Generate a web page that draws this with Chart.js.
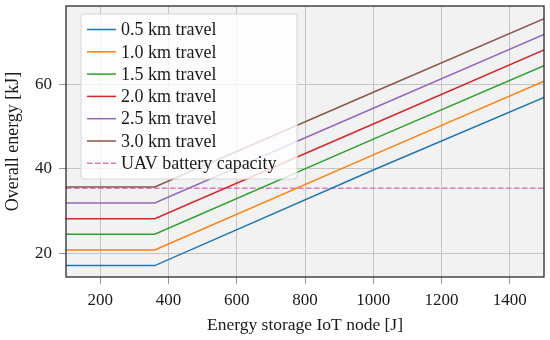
<!DOCTYPE html>
<html>
<head>
<meta charset="utf-8">
<script src="https://cdn.jsdelivr.net/npm/chart.js@4/dist/chart.umd.min.js"></script>
<style>
  html, body { margin: 0; padding: 0; background: #fff; }
  #wrap { width: 550px; height: 340px; }
</style>
</head>
<body>
<div id="wrap"><canvas id="energyChart" width="550" height="340"></canvas></div>
<script>
// energy storage of the IoT node [J]
const storage = [100, 360, 1000, 1500];

// overall energy [kJ] per travel distance
const travel05 = [17.1, 17.1, 39.7, 56.9];
const travel10 = [20.8, 20.8, 43.3, 60.7];
const travel15 = [24.5, 24.5, 47.0, 64.4];
const travel20 = [28.2, 28.2, 50.6, 68.1];
const travel25 = [31.9, 31.9, 54.3, 71.8];
const travel30 = [35.7, 35.7, 58.1, 75.5];

const batteryX = [100, 1500];
const batteryCapacity = [35.4, 35.4];

const seriesLabels = ["0.5 km travel", "1.0 km travel", "1.5 km travel", "2.0 km travel", "2.5 km travel", "3.0 km travel"];
const seriesValues = [travel05, travel10, travel15, travel20, travel25, travel30];
const seriesColors = ["#1f77b4", "#ff7f0e", "#2ca02c", "#d62728", "#9467bd", "#8c564b"];

const xTicks = [200, 400, 600, 800, 1000, 1200, 1400];
const yTicks = [20, 40, 60];

const serif = "'Liberation Serif', 'DejaVu Serif', serif";

function toPoints(xs, ys) {
    return xs.map((x, i) => ({ x: x, y: ys[i] }));
}

const datasets = seriesValues.map((vals, i) => ({
    label: seriesLabels[i],
    data: toPoints(storage, vals),
    borderColor: seriesColors[i],
    borderWidth: 1.5,
    pointRadius: 0,
    tension: 0,
    fill: false
}));

datasets.push({
    label: "UAV battery capacity",
    data: toPoints(batteryX, batteryCapacity),
    borderColor: "#e377c2",
    borderWidth: 1.5,
    borderDash: [5.5, 2.5],
    pointRadius: 0,
    fill: false
});

// plot background, frame and the legend inside the plot
const plotDecor = {
    id: "plotDecor",
    beforeDraw(chart) {
        const a = chart.chartArea;
        const c = chart.ctx;
        c.save();
        c.fillStyle = "#f2f2f2";
        c.fillRect(a.left, a.top, a.right - a.left, a.bottom - a.top);
        c.restore();
    },
    afterDatasetsDraw(chart) {
        const a = chart.chartArea;
        const c = chart.ctx;
        c.save();
        c.strokeStyle = "#2a2a2a";
        c.lineWidth = 1.3;
        c.strokeRect(a.left, a.top, a.right - a.left, a.bottom - a.top);

        // legend box
        const bx = a.left + 15, by = a.top + 8, bw = 216, bh = 165;
        c.beginPath();
        c.roundRect(bx, by, bw, bh, 3);
        c.fillStyle = "rgba(255,255,255,0.8)";
        c.fill();
        c.strokeStyle = "#d6d6d6";
        c.lineWidth = 1;
        c.stroke();

        c.font = "18px " + serif;
        c.textBaseline = "middle";
        c.textAlign = "left";
        chart.data.datasets.forEach((ds, i) => {
            const y = by + 15.5 + i * 22.3;
            c.beginPath();
            c.setLineDash(ds.borderDash || []);
            c.strokeStyle = ds.borderColor;
            c.lineWidth = 1.5;
            c.moveTo(bx + 6, y);
            c.lineTo(bx + 35, y);
            c.stroke();
            c.setLineDash([]);
            c.fillStyle = "#1a1a1a";
            c.fillText(ds.label, bx + 40, y + 1);
        });
        c.restore();
    }
};

new Chart(document.getElementById("energyChart"), {
    type: "line",
    data: { datasets: datasets },
    plugins: [plotDecor],
    options: {
        responsive: false,
        animation: false,
        layout: { padding: { top: 6, right: 6, left: 0, bottom: 0 } },
        plugins: { legend: { display: false }, tooltip: { enabled: false } },
        scales: {
            x: {
                type: "linear",
                min: 100,
                max: 1500,
                afterFit: (s) => { s.height = 63; s.paddingLeft = 0; s.paddingRight = 0; },
                afterBuildTicks: (s) => { s.ticks = xTicks.map(v => ({ value: v })); },
                ticks: {
                    includeBounds: false,
                    color: "#1a1a1a",
                    font: { family: serif, size: 17 },
                    padding: 6,
                    maxRotation: 0,
                    callback: (v) => String(v)
                },
                grid: { color: "#c4c4c4", lineWidth: 1, tickLength: 7, tickColor: "#999" },
                border: { display: false },
                title: {
                    display: true,
                    text: "Energy storage IoT node [J]",
                    color: "#1a1a1a",
                    font: { family: serif, size: 17.5 },
                    padding: { top: 0, bottom: 4 }
                }
            },
            y: {
                min: 14.4,
                max: 78.5,
                afterFit: (s) => { s.width = 66; s.paddingTop = 0; s.paddingBottom = 0; },
                afterBuildTicks: (s) => { s.ticks = yTicks.map(v => ({ value: v })); },
                ticks: {
                    includeBounds: false,
                    color: "#1a1a1a",
                    font: { family: serif, size: 17 },
                    padding: 7,
                    callback: (v) => String(v)
                },
                grid: { color: "#c4c4c4", lineWidth: 1, tickLength: 7, tickColor: "#999" },
                border: { display: false },
                title: {
                    display: true,
                    text: "Overall energy [kJ]",
                    color: "#1a1a1a",
                    font: { family: serif, size: 18 },
                    padding: { top: 2, bottom: 0 }
                }
            }
        }
    }
});
</script>
</body>
</html>
